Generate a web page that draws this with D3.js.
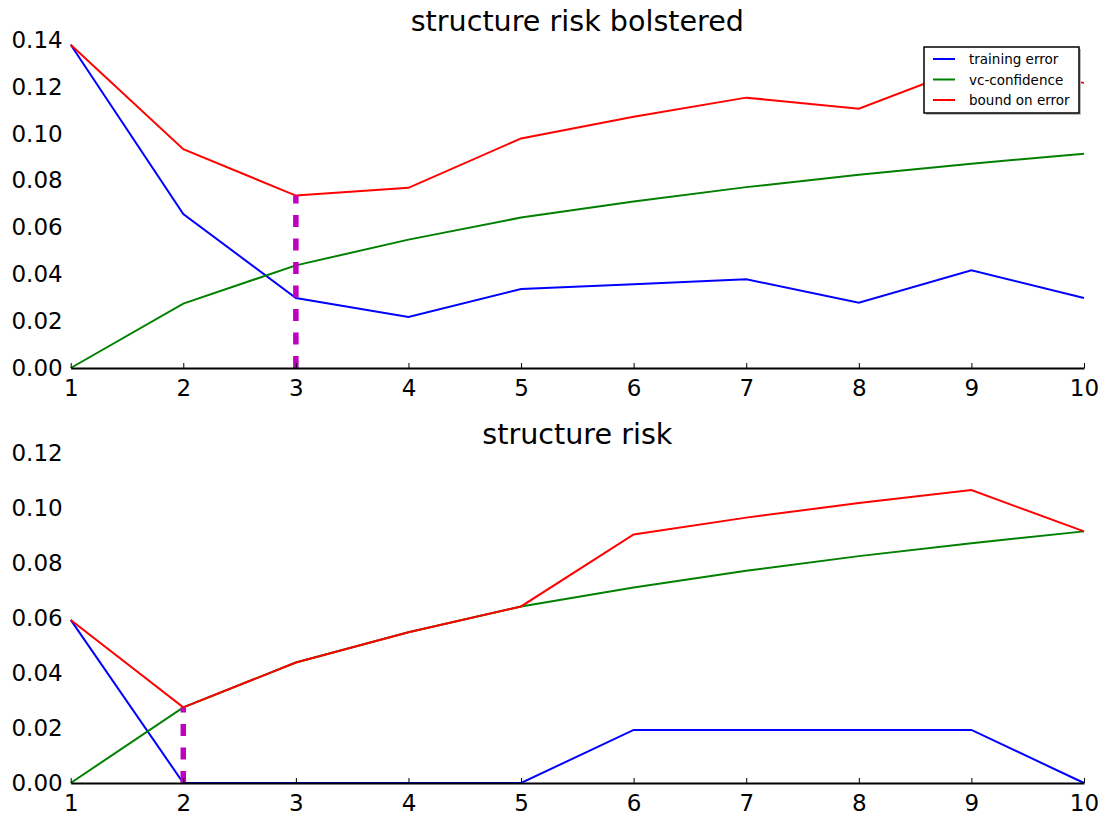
<!DOCTYPE html>
<html>
<head>
<meta charset="utf-8">
<script src="https://cdn.jsdelivr.net/npm/d3@7"></script>
<style>
  html, body { margin: 0; padding: 0; background: #fff; }
  svg { display: block; font-family: "DejaVu Sans", sans-serif; }
</style>
</head>
<body>
<svg id="chart" width="1107" height="817"></svg>
<script>
// Model complexity (x) for both panels
const complexity = [1, 2, 3, 4, 5, 6, 7, 8, 9, 10];

// Panel 1: structure risk bolstered
const bolsteredTraining = [0.138, 0.0657, 0.0299, 0.0218, 0.0337, 0.0358, 0.0379, 0.0279, 0.0417, 0.0299];
const bolsteredVc       = [0, 0.0275, 0.0438, 0.0548, 0.0642, 0.0711, 0.0772, 0.0825, 0.0872, 0.0915];
const bolsteredBound    = [0.138, 0.0934, 0.0736, 0.0769, 0.098, 0.1072, 0.1154, 0.1107, 0.129, 0.1217];
const bolsteredBest = 3;

// Panel 2: structure risk
const plainTraining = [0.0593, 0, 0, 0, 0, 0.0193, 0.0193, 0.0193, 0.0193, 0];
const plainVc       = [0, 0.0275, 0.0438, 0.0548, 0.0642, 0.0711, 0.0772, 0.0825, 0.0872, 0.0915];
const plainBound    = [0.0593, 0.0275, 0.0438, 0.0548, 0.0642, 0.0904, 0.0965, 0.1018, 0.1065, 0.0915];
const plainBest = 2;

const titles = ["structure risk bolstered", "structure risk"];
const yTicksTop = [0, 0.02, 0.04, 0.06, 0.08, 0.10, 0.12, 0.14];
const yTicksBottom = [0, 0.02, 0.04, 0.06, 0.08, 0.10, 0.12];
const legendLabels = ["training error", "vc-confidence", "bound on error"];
const seriesColors = ["#0000ff", "#008000", "#ff0000"];
const markerColor = "#bf00bf";

const svg = d3.select("#chart");
const x = d3.scaleLinear().domain([1, 10]).range([70.7, 1084]);

const panels = [
  { title: titles[0], series: [bolsteredTraining, bolsteredVc, bolsteredBound], best: bolsteredBest,
    yMax: 0.14, ticks: yTicksTop, top: 40, bottom: 368, legend: true },
  { title: titles[1], series: [plainTraining, plainVc, plainBound], best: plainBest,
    yMax: 0.12, ticks: yTicksBottom, top: 453, bottom: 783, legend: false }
];

panels.forEach(p => {
  const y = d3.scaleLinear().domain([0, p.yMax]).range([p.bottom, p.top]);
  const g = svg.append("g");

  // title
  g.append("text")
    .attr("x", (x.range()[0] + x.range()[1]) / 2)
    .attr("y", p.top - 9)
    .attr("text-anchor", "middle")
    .attr("font-size", 28.6)
    .attr("fill", "#000")
    .text(p.title);

  // y tick labels (no spine, no tick marks)
  const yAxis = d3.axisLeft(y).tickValues(p.ticks).tickFormat(d3.format(".2f")).tickSize(0).tickPadding(0);
  const ya = g.append("g").attr("transform", `translate(${x.range()[0] - 8},0)`).call(yAxis);
  ya.select(".domain").remove();
  ya.selectAll("text").attr("font-size", 23).attr("font-family", "DejaVu Sans").attr("fill", "#000");

  // series lines
  const line = d3.line().x((d, i) => x(complexity[i])).y(d => y(d));
  p.series.forEach((s, k) => {
    g.append("path")
      .datum(s)
      .attr("d", line)
      .attr("fill", "none")
      .attr("stroke", seriesColors[k])
      .attr("stroke-width", 2)
      .attr("stroke-linejoin", "miter");
  });

  // dashed marker at the minimum bound
  const bi = complexity.indexOf(p.best);
  g.append("path")
    .datum([[p.best, 0], [p.best, p.series[2][bi]]])
    .attr("d", d3.line().x(d => x(d[0])).y(d => y(d[1])))
    .attr("fill", "none")
    .attr("stroke", markerColor)
    .attr("stroke-width", 5.5)
    .attr("stroke-dasharray", "12,11.5");

  // x axis with inward ticks, drawn over the data
  const xAxis = d3.axisBottom(x).tickValues(complexity).tickFormat(d3.format("d")).tickSizeInner(-5).tickSizeOuter(0).tickPadding(12);
  const xa = g.append("g").attr("transform", `translate(0,${p.bottom})`).call(xAxis);
  xa.select(".domain").attr("stroke", "#000").attr("stroke-width", 2);
  xa.selectAll(".tick line").attr("stroke", "#000").attr("stroke-width", 1);
  xa.selectAll("text").attr("font-size", 23).attr("font-family", "DejaVu Sans").attr("fill", "#000");

  if (p.legend) {
    const lg = svg.append("g").attr("transform", "translate(924,47)");
    lg.append("rect").attr("x", 2).attr("y", 2).attr("width", 155).attr("height", 66).attr("fill", "#bbb");
    lg.append("rect").attr("width", 155).attr("height", 66).attr("fill", "#fff").attr("stroke", "#000").attr("stroke-width", 1.5);
    legendLabels.forEach((lab, k) => {
      const cy = 12 + k * 20.5;
      lg.append("line").attr("x1", 9).attr("x2", 31).attr("y1", cy).attr("y2", cy)
        .attr("stroke", seriesColors[k]).attr("stroke-width", 2);
      lg.append("text").attr("x", 45).attr("y", cy + 5).attr("font-size", 13.5).attr("fill", "#000").text(lab);
    });
  }
});
</script>
</body>
</html>
